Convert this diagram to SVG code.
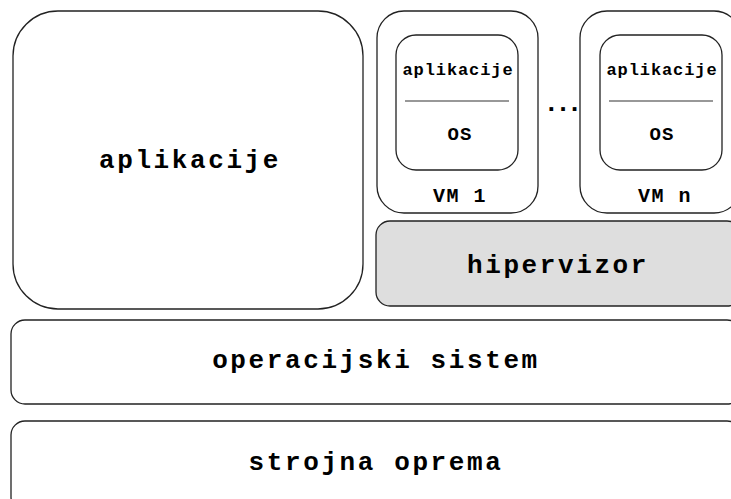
<svg xmlns="http://www.w3.org/2000/svg" width="731" height="499" viewBox="0 0 731 499">
<style>
.box{fill:#fff;stroke:#222;stroke-width:1.3}
.gray{fill:#dedede;stroke:#222;stroke-width:1.3}
.big{font-family:"Liberation Mono","Courier New",monospace;font-weight:bold;font-size:26px;letter-spacing:2.6px;text-anchor:middle;fill:#000}
.sm{font-family:"Liberation Mono","Courier New",monospace;font-weight:bold;font-size:17px;letter-spacing:0.9px;text-anchor:middle;fill:#000}
.os{font-family:"Liberation Mono","Courier New",monospace;font-weight:bold;font-size:19px;letter-spacing:1px;text-anchor:middle;fill:#000}
.vm{font-family:"Liberation Mono","Courier New",monospace;font-weight:bold;font-size:20px;letter-spacing:1.5px;text-anchor:middle;fill:#000}
</style>
<rect width="731" height="499" fill="#fff"/>
<g id="apps">
<rect class="box" x="13" y="11" width="350" height="298" rx="45"/>
<text class="big" x="190" y="168">aplikacije</text>
</g>
<g id="vm1">
<rect class="box" x="377" y="11" width="161" height="202" rx="27"/>
<rect class="box" x="396" y="35" width="122" height="135" rx="20"/>
<text class="sm" x="458" y="75">aplikacije</text>
<line x1="405" y1="101" x2="509" y2="101" stroke="#333" stroke-width="1.2"/>
<text class="os" x="460" y="140">OS</text>
<text class="vm" x="460" y="202">VM 1</text>
</g>
<g id="dots">
<text class="vm" x="561" y="111" style="font-size:26px;letter-spacing:-4px">...</text>
</g>
<g id="vmn">
<rect class="box" x="580" y="11" width="161" height="202" rx="27"/>
<rect class="box" x="600" y="35" width="122" height="135" rx="20"/>
<text class="sm" x="662" y="75">aplikacije</text>
<line x1="609" y1="101" x2="713" y2="101" stroke="#333" stroke-width="1.2"/>
<text class="os" x="662" y="140">OS</text>
<text class="vm" x="665" y="202">VM n</text>
</g>
<g id="hipervizor">
<rect class="gray" x="376" y="221" width="365" height="85" rx="14"/>
<text class="big" x="558" y="273">hipervizor</text>
</g>
<g id="os">
<rect class="box" x="11" y="320" width="730" height="84" rx="14"/>
<text class="big" x="376" y="368">operacijski sistem</text>
</g>
<g id="hw">
<rect class="box" x="11" y="421" width="730" height="90" rx="14"/>
<text class="big" x="376" y="470">strojna oprema</text>
</g>
<g id="connectors"/>
</svg>
